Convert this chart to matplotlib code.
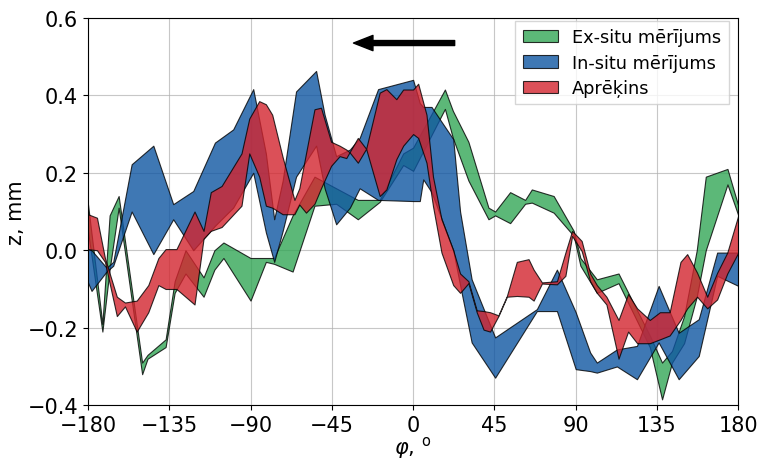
import matplotlib.pyplot as plt

# Ex-situ mērījums
x_ex = [-180, -172, -168, -163, -150, -147, -137, -132, -126, -116, -110, -105, -90, -81.5, -77,
        -66.7, -54.6, -42.6, -30.6, -18.5, -5.5, 0, 17.6, 22, 30.6, 41.7, 45.4, 53.7, 62, 65.7,
        77.8, 88.9, 92.6, 101.7, 113.7, 131, 137.8, 143.3, 150, 157, 162, 174, 180]
lo_ex = [0.05, -0.21, -0.05, 0.11, -0.32, -0.28, -0.25, -0.11, -0.06, -0.12, -0.05, -0.02, -0.13,
         -0.03, -0.035, -0.055, 0.115, 0.12, 0.08, 0.125, 0.22, 0.205, 0.365, 0.29, 0.18, 0.08,
         0.09, 0.07, 0.12, 0.123, 0.097, 0.037, -0.04, -0.11, -0.085, -0.25, -0.385, -0.29, -0.24,
         -0.12, 0.0, 0.17, 0.09]
hi_ex = [0.12, -0.19, 0.09, 0.14, -0.29, -0.27, -0.23, -0.08, 0.0, -0.07, 0.0, 0.02, -0.02,
         -0.02, -0.02, 0.09, 0.19, 0.16, 0.13, 0.13, 0.25, 0.265, 0.415, 0.36, 0.28, 0.11,
         0.10, 0.15, 0.13, 0.157, 0.14, 0.05, -0.02, -0.075, -0.06, -0.22, -0.29, -0.26, -0.17,
         0.0, 0.19, 0.21, 0.115]

# In-situ mērījums
x_in = [-180, -178, -169.7, -166, -155.8, -143.8, -132.8, -121.7, -109.7, -99.6, -88.5, -81.5,
        -76.9, -72.2, -64.8, -53.7, -49, -42.6, -35, -29.6, -19.4, 0, 3.7, 5.6, 10.2, 22.2, 26,
        32.4, 45.4, 68.5, 79.6, 90, 98, 101.7, 112.8, 123.9, 135.9, 147, 158.1, 168.3, 180]
lo_in = [-0.083, -0.105, -0.055, -0.04, 0.10, -0.01, 0.08, 0.0, 0.063, 0.11, 0.2, 0.046,
         -0.03, 0.05, 0.19, 0.27, 0.16, 0.067, 0.11, 0.16, 0.13, 0.127, 0.127, 0.183, 0.15, 0.0,
         -0.09, -0.238, -0.329, -0.157, -0.157, -0.307, -0.312, -0.316, -0.30, -0.333, -0.238,
         -0.333, -0.273, -0.066, -0.092]
hi_in = [0.003, 0.0, -0.045, -0.03, 0.222, 0.27, 0.119, 0.153, 0.278, 0.312, 0.416, 0.25,
         0.08, 0.18, 0.41, 0.463, 0.35, 0.243, 0.26, 0.29, 0.416, 0.44, 0.38, 0.37, 0.37, 0.287,
         0.1, -0.075, -0.225, -0.152, -0.05, -0.16, -0.264, -0.29, -0.256, -0.247, -0.092,
         -0.213, -0.178, -0.006, -0.006]

# Aprēķins
x_ap = [-180, -175, -170.6, -164, -159.5, -153, -146.6, -141, -137, -131, -121, -116, -112, -106,
        -95, -90.7, -85.2, -81.5, -78, -72.2, -65.7, -63, -59.3, -54.6, -51, -45.4, -40.7, -37,
        -35.2, -30.6, -26, -18.5, -14.8, -9.3, -5.5, 0, 2.8, 7.4, 11, 15.7, 22.2, 26, 30.6, 35.2,
        39, 42.6, 47.2, 51.9, 57.4, 63.9, 66.7, 71.3, 79.6, 84.3, 88, 93.3, 98, 101.7, 107,
        113.7, 119, 124, 131, 136.6, 142, 148, 151.7, 157.2, 162.8, 168.3, 173.9, 180]
lo_ap = [0.003, 0.0, -0.03, -0.17, -0.145, -0.21, -0.16, -0.09, -0.10, -0.10, -0.14, 0.03, 0.05,
         0.06, 0.115, 0.25, 0.19, 0.115, 0.11, 0.093, 0.093, 0.118, 0.097, 0.12, 0.16, 0.218,
         0.243, 0.238, 0.253, 0.226, 0.262, 0.14, 0.157, 0.235, 0.27, 0.3, 0.29, 0.226, 0.114,
         -0.006, -0.09, -0.11, -0.085, -0.16, -0.205, -0.21, -0.17, -0.12, -0.118, -0.12, -0.13,
         -0.086, -0.088, -0.066, 0.037, -0.002, -0.08, -0.11, -0.14, -0.28, -0.21, -0.24, -0.24,
         -0.23, -0.22, -0.18, -0.15, -0.12, -0.15, -0.127, -0.06, -0.006]
hi_ap = [0.093, 0.084, -0.02, -0.12, -0.135, -0.13, -0.09, -0.02, 0.003, 0.003, 0.10, 0.05, 0.15,
         0.166, 0.25, 0.34, 0.385, 0.377, 0.35, 0.24, 0.13, 0.16, 0.25, 0.364, 0.368, 0.28,
         0.27, 0.26, 0.253, 0.29, 0.262, 0.407, 0.416, 0.39, 0.415, 0.415, 0.43, 0.35, 0.19,
         0.08, 0.0, -0.06, -0.08, -0.155, -0.157, -0.16, -0.168, -0.118, -0.03, -0.023, -0.05,
         -0.083, -0.08, -0.006, 0.05, 0.024, -0.06, -0.09, -0.12, -0.18, -0.113, -0.15, -0.18,
         -0.16, -0.16, -0.03, -0.01, -0.058, -0.12, -0.058, -0.006, 0.09]

fig, ax = plt.subplots(figsize=(7.58, 4.6), dpi=100)
fig.subplots_adjust(left=0.116, right=0.974, top=0.959, bottom=0.117)

ax.fill_between(x_ex, lo_ex, hi_ex, color='#33a656', edgecolor='k', lw=0.8, alpha=0.8,
                label='Ex-situ mērījums')
ax.fill_between(x_in, lo_in, hi_in, color='#0f56a2', edgecolor='k', lw=0.8, alpha=0.8,
                label='In-situ mērījums')
ax.fill_between(x_ap, lo_ap, hi_ap, color='#d3242e', edgecolor='k', lw=0.8, alpha=0.8,
                label='Aprēķins')

# rotation direction
ax.annotate('', xy=(-33, 0.535), xytext=(23, 0.535),
            arrowprops=dict(facecolor='k', edgecolor='k', width=3.6, headwidth=11, headlength=14))

ax.set_xlim(-180, 180)
ax.set_ylim(-0.4, 0.6)
ax.set_xticks([-180, -135, -90, -45, 0, 45, 90, 135, 180])
ax.set_yticks([-0.4, -0.2, 0.0, 0.2, 0.4, 0.6])
ax.tick_params(labelsize=15)
ax.grid(True, color='#b0b0b0', lw=0.8, alpha=0.7)
ax.set_axisbelow(True)
ax.set_xlabel(r'$\varphi$, $^\mathrm{o}$', fontsize=15, labelpad=-0.5)
ax.set_ylabel('z, mm', fontsize=15, labelpad=1)
ax.legend(loc='upper right', bbox_to_anchor=(0.985, 0.992), borderaxespad=0,
          fontsize=12.8, fancybox=False, edgecolor='#cccccc', labelspacing=0.42)

fig.savefig('out.png')
